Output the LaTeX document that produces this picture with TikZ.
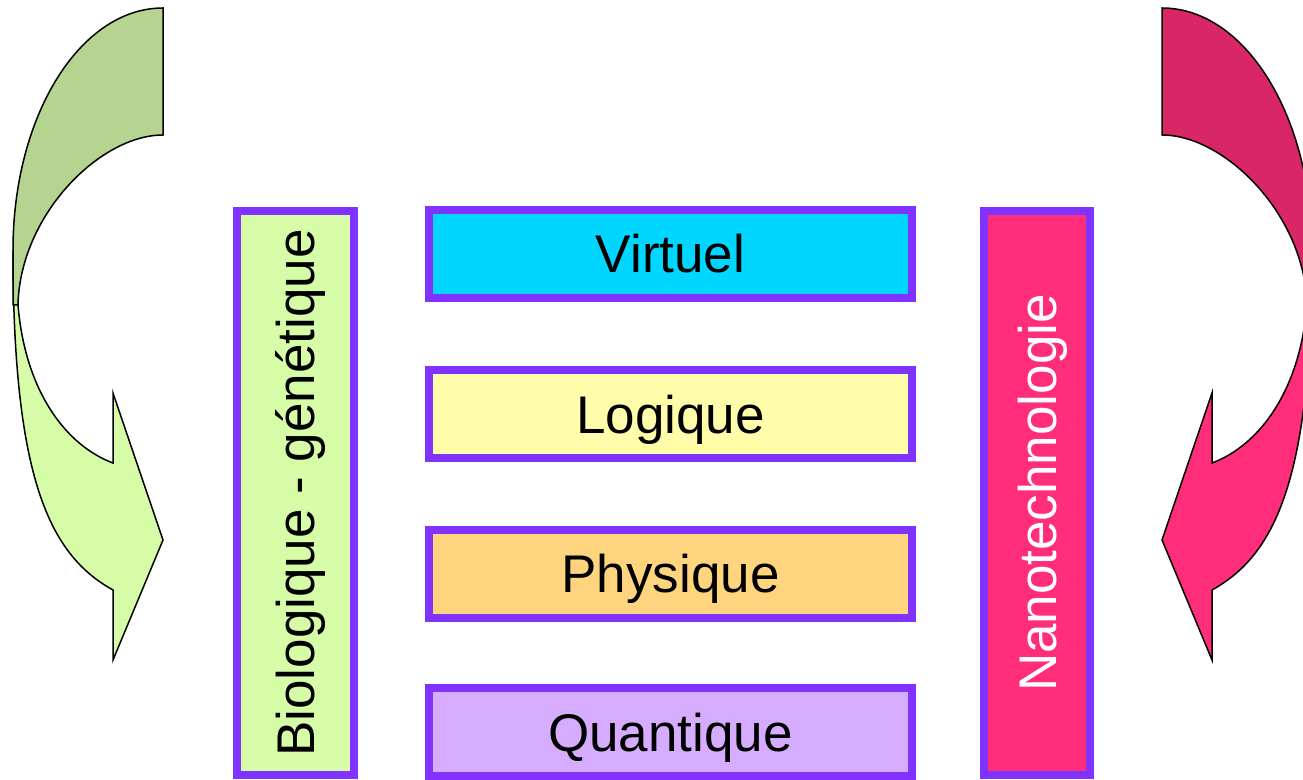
\documentclass[tikz,border=0pt]{standalone}
\usepackage{fontspec}
\setmainfont{Liberation Sans}
\definecolor{boxline}{RGB}{128,51,255}
\definecolor{virtcol}{RGB}{0,214,255}
\definecolor{logcol}{RGB}{255,252,170}
\definecolor{physcol}{RGB}{255,212,127}
\definecolor{quantcol}{RGB}{214,172,255}
\definecolor{biocol}{RGB}{214,252,168}
\definecolor{biodark}{RGB}{180,212,144}
\definecolor{nanocol}{RGB}{255,45,122}
\definecolor{nanodark}{RGB}{217,38,102}
% curved arrow: #1 front colour, #2 back colour
\newcommand{\bentarrow}[2]{%
  \draw[fill=#1,line width=0.75pt] (13,250) .. controls (13,480) and (50,555) .. (113,590)
    -- (113,660) -- (163,540) -- (113,393) -- (113,463)
    .. controls (65,445) and (25,390) .. (18,305) -- cycle;
  \draw[fill=#2,line width=0.75pt] (163,8) .. controls (80,8) and (13,116) .. (13,250)
    -- (13,305) -- (18,305) .. controls (20,215) and (100,135) .. (163,135) -- cycle;}
\begin{document}
\begin{tikzpicture}[x=0.5pt,y=-0.5pt,
    layer/.style={draw=boxline,line width=4pt,inner sep=0pt,
      text height=19pt,text depth=0pt,
      minimum width=241.5pt,minimum height=44pt,font=\fontsize{26.5}{32}\selectfont},
    side/.style={draw=boxline,line width=4pt,inner sep=0pt,rotate=90,
      text height=19pt,text depth=0pt,
      minimum width=282pt,font=\fontsize{26.5}{32}\selectfont}]
  \useasboundingbox (0,0) rectangle (1303,780);
  \begin{scope}
    \clip (0,0) rectangle (1303,780);
    \bentarrow{biocol}{biodark}
    \begin{scope}[shift={(1325,0)},xscale=-1]
      \bentarrow{nanocol}{nanodark}
    \end{scope}
  \end{scope}
  \node[layer,fill=virtcol] (virt) at (670.5,254) {Virtuel};
  \node[layer,fill=logcol] (log) at (670.5,414.5) {Logique};
  \node[layer,fill=physcol] (phys) at (670.5,574) {Physique};
  \node[layer,fill=quantcol] (quant) at (670.5,732.5) {Quantique};
  \node[side,fill=biocol,minimum height=58.5pt] (bio) at (295.5,493) {Biologique - génétique};
  \node[side,fill=nanocol,minimum height=53pt,text=white] (nano) at (1037,493) {Nanotechnologie};
\end{tikzpicture}
\end{document}
